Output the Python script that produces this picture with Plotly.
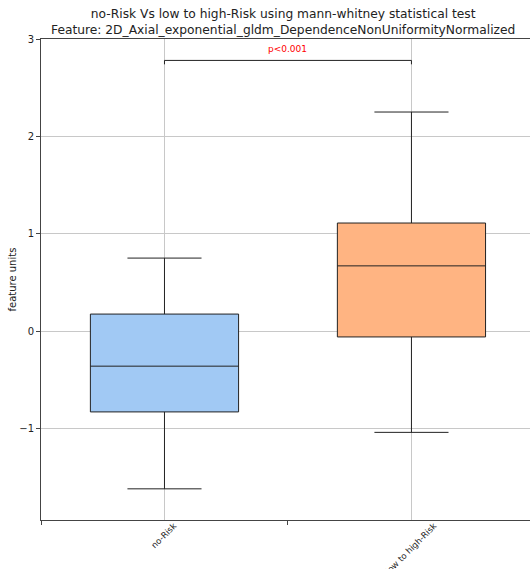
import plotly.graph_objects as go

# ---- data ----
categories = ["no-Risk", "low to high-Risk"]
positions = [0.5, 1.5]
q1 = [-0.83, -0.06]
median = [-0.36, 0.67]
q3 = [0.175, 1.11]
lower_whisker = [-1.62, -1.04]
upper_whisker = [0.75, 2.25]
fill_colors = ["#a1c9f4", "#ffb482"]
y_ticks = [-1, 0, 1, 2, 3]
p_text = "p<0.001"
bracket_top = 2.78
bracket_drop = 0.04
p_text_y = 2.90
y_title = "feature units"
title_text = ("no-Risk Vs low to high-Risk using mann-whitney statistical test<br>"
              "Feature: 2D_Axial_exponential_gldm_DependenceNonUniformityNormalized")

FONT = "DejaVu Sans"

fig = go.Figure()
for i, cat in enumerate(categories):
    fig.add_trace(go.Box(
        x=[positions[i]],
        q1=[q1[i]], median=[median[i]], q3=[q3[i]],
        lowerfence=[lower_whisker[i]], upperfence=[upper_whisker[i]],
        width=0.6, whiskerwidth=0.5,
        fillcolor=fill_colors[i],
        line=dict(color="#222222", width=1),
        boxpoints=False, name=cat, showlegend=False, hoverinfo="skip",
    ))

# significance bracket
fig.add_trace(go.Scatter(
    x=[positions[0], positions[0], positions[1], positions[1]],
    y=[bracket_top - bracket_drop, bracket_top, bracket_top, bracket_top - bracket_drop],
    mode="lines", line=dict(color="#222222", width=1),
    showlegend=False, hoverinfo="skip",
))
fig.add_annotation(x=sum(positions) / 2, y=p_text_y, text=p_text, showarrow=False,
                   font=dict(family=FONT, size=9, color="red"))

# rotated category labels (centered like matplotlib)
for pos, cat in zip(positions, categories):
    fig.add_annotation(x=pos, y=0, xref="x", yref="paper", yanchor="top", xanchor="center",
                       yshift=1, xshift=0,
                       text=cat, textangle=-45, showarrow=False, borderpad=0,
                       font=dict(family=FONT, size=8.5, color="#222222"))

# y-axis title
fig.add_annotation(x=0, y=0.5, xref="paper", yref="paper", xanchor="center", yanchor="middle",
                   xshift=-29, text=y_title, textangle=-90, showarrow=False, borderpad=0,
                   font=dict(family=FONT, size=10, color="#222222"))

# two-line title
fig.add_annotation(x=0.5, y=1, xref="paper", yref="paper", xanchor="center", yanchor="bottom",
                   yshift=1, xshift=-3, text=title_text, showarrow=False, borderpad=0,
                   font=dict(family=FONT, size=12.25, color="#222222"))

fig.update_layout(
    width=530, height=569, autosize=False,
    paper_bgcolor="white", plot_bgcolor="white",
    margin=dict(l=41, r=0, t=39, b=49, autoexpand=False),
    font=dict(family=FONT, size=10, color="#222222"),
    xaxis=dict(
        range=[0, 1.98], tickvals=positions, ticktext=["", ""],
        showgrid=True, gridcolor="#c8c8c8", gridwidth=1,
        ticks="", showline=True, linecolor="#444444", linewidth=1, mirror=True,
        zeroline=False, fixedrange=True,
    ),
    xaxis2=dict(
        range=[0, 1.98], tickvals=[0, 1, 2], showticklabels=False,
        ticks="outside", ticklen=4, tickcolor="#444444",
        overlaying="x", side="bottom", showgrid=False, zeroline=False, showline=False,
    ),
    yaxis=dict(
        range=[-1.94, 3], tickvals=y_ticks,
        showgrid=True, gridcolor="#c8c8c8", gridwidth=1,
        ticks="outside", ticklen=4, tickcolor="#444444",
        showline=True, linecolor="#444444", linewidth=1, mirror=False,
        zeroline=False,
        tickfont=dict(family=FONT, size=10),
    ),
)
# dummy trace to activate xaxis2
fig.add_trace(go.Scatter(x=[None], y=[None], xaxis="x2", showlegend=False, hoverinfo="skip"))

fig.write_html(
    "out.html",
    config={"displayModeBar": False},
    post_script="document.body.style.margin='0';"
                "document.documentElement.style.overflow='hidden';"
                "document.body.style.overflow='hidden';",
)
